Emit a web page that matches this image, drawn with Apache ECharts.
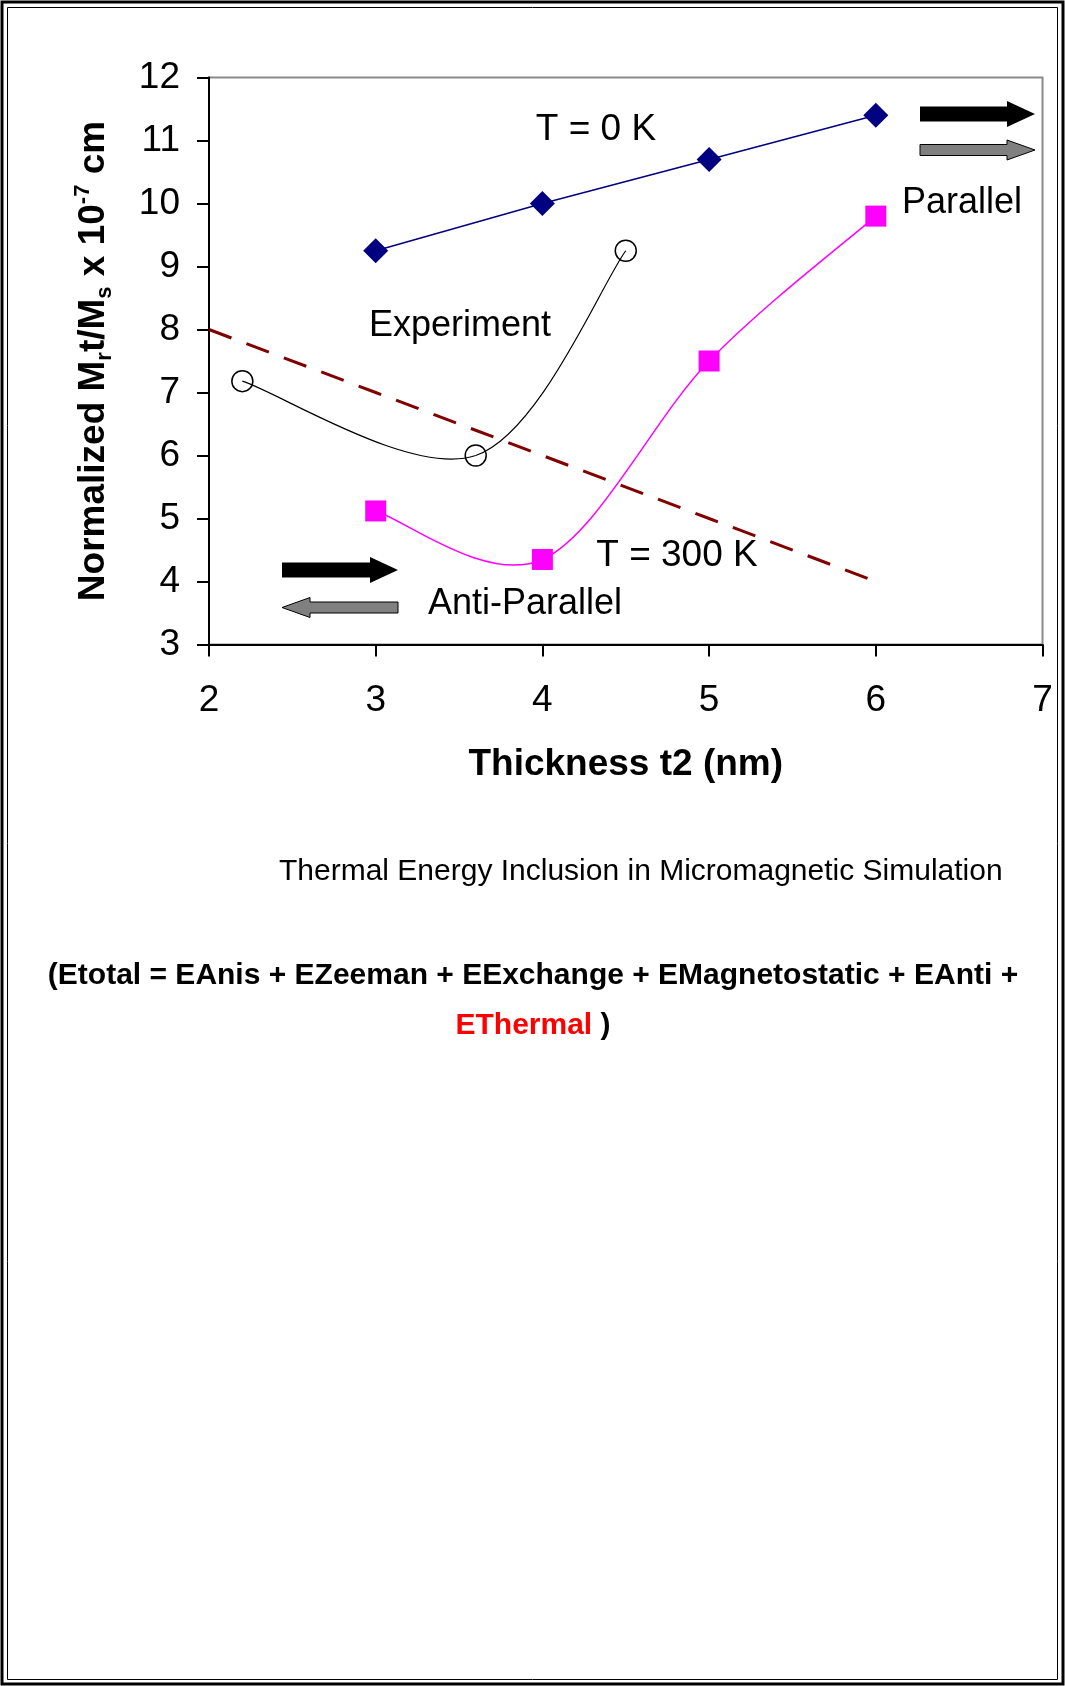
<!DOCTYPE html>
<html>
<head>
<meta charset="utf-8">
<script src="https://cdn.jsdelivr.net/npm/echarts@6/dist/echarts.min.js"></script>
<style>
  html, body { margin: 0; padding: 0; background: #fff; }
  #chart { width: 1065px; height: 1686px; }
</style>
</head>
<body>
<div id="chart"></div>
<script>
// Thickness t2 (nm) and normalized Mr·t/Ms (×10^-7 cm)
const zeroKX = [3, 4, 5, 6];
const zeroKY = [9.25, 10.0, 10.7, 11.4];

const roomKX = [3, 4, 5, 6];
const roomKY = [5.12, 4.35, 7.5, 9.8];

const experimentX = [2.2, 3.6, 4.5];
const experimentY = [7.18, 6.0, 9.25];

const trendX = [2, 3, 4, 5, 6];
const trendY = [8, 7, 6, 5, 4];

const xTicks = { min: 2, max: 7, step: 1 };
const yTicks = { min: 3, max: 12, step: 1 };

const FONT = '"Liberation Sans", Arial, Helvetica, sans-serif';

function pairs(xs, ys) { return xs.map((x, i) => [x, ys[i]]); }

// Spreadsheet-style smoothed segment: cubic Bezier between point i and i+1,
// control points taken from the neighbouring points in screen space.
function smoothSegment(pts, color, width) {
  return function (params, api) {
    const i = params.dataIndex;
    if (i >= pts.length - 1) return null;
    const p = pts.map(d => api.coord(d));
    const p0 = p[Math.max(i - 1, 0)], p1 = p[i], p2 = p[i + 1], p3 = p[Math.min(i + 2, p.length - 1)];
    const k = 1 / 6;
    return {
      type: 'bezierCurve',
      shape: {
        x1: p1[0], y1: p1[1], x2: p2[0], y2: p2[1],
        cpx1: p1[0] + (p2[0] - p0[0]) * k, cpy1: p1[1] + (p2[1] - p0[1]) * k,
        cpx2: p2[0] - (p3[0] - p1[0]) * k, cpy2: p2[1] - (p3[1] - p1[1]) * k
      },
      style: { stroke: color, lineWidth: width, fill: null }
    };
  };
}

// block arrow polygon: tail at x0, tip at x1, centred on y
function arrow(x0, x1, y, bodyH, headH, headL) {
  const dir = x1 > x0 ? 1 : -1;
  const hx = x1 - dir * headL;
  return [
    [x0, y - bodyH / 2], [hx, y - bodyH / 2], [hx, y - headH / 2], [x1, y],
    [hx, y + headH / 2], [hx, y + bodyH / 2], [x0, y + bodyH / 2]
  ];
}

const experimentPts = pairs(experimentX, experimentY);
const roomKPts = pairs(roomKX, roomKY);

const chart = echarts.init(document.getElementById('chart'), null, { renderer: 'canvas' });

const option = {
  backgroundColor: '#ffffff',
  animation: false,
  textStyle: { fontFamily: FONT },
  grid: {
    left: 209, top: 77.5, width: 833.5, height: 567,
    show: true, borderColor: '#8a8a8a', borderWidth: 2,
    backgroundColor: 'transparent',
    outerBoundsMode: 'none'
  },
  xAxis: {
    type: 'value', min: xTicks.min, max: xTicks.max, interval: xTicks.step,
    axisLine: { show: true, onZero: false, lineStyle: { color: '#000', width: 2 } },
    axisTick: { show: true, length: 12, lineStyle: { color: '#000', width: 2 } },
    axisLabel: { fontSize: 37, color: '#000', margin: 38, fontFamily: FONT },
    splitLine: { show: false },
    name: 'Thickness t2 (nm)',
    nameLocation: 'middle', nameGap: 102,
    nameTextStyle: { fontSize: 37, fontWeight: 'bold', color: '#000', fontFamily: FONT }
  },
  yAxis: {
    type: 'value', min: yTicks.min, max: yTicks.max, interval: yTicks.step,
    axisLine: { show: true, onZero: false, lineStyle: { color: '#000', width: 2 } },
    axisTick: { show: true, length: 12, lineStyle: { color: '#000', width: 2 } },
    axisLabel: { fontSize: 37, color: '#000', margin: 29, fontFamily: FONT },
    splitLine: { show: false },
    name: '{b|Normalized M}{sub|r}{b|t/M}{sub|s}{b| x 10}{sup|-7}{b| cm}',
    nameLocation: 'middle', nameGap: 93, nameRotate: 90,
    nameTextStyle: {
      color: '#000',
      rich: {
        b: { fontSize: 37, fontWeight: 'bold', lineHeight: 44, color: '#000', fontFamily: FONT },
        sub: { fontSize: 22, fontWeight: 'bold', lineHeight: 22, verticalAlign: 'bottom', color: '#000', fontFamily: FONT },
        sup: { fontSize: 22, fontWeight: 'bold', lineHeight: 22, verticalAlign: 'top', color: '#000', fontFamily: FONT }
      }
    }
  },
  series: [
    {
      name: 'T = 300 K trend',
      type: 'line',
      data: pairs(trendX, trendY),
      showSymbol: false, symbol: 'none',
      lineStyle: { color: '#800000', width: 3, type: [24, 16] },
      z: 2
    },
    {
      name: 'Experiment curve',
      type: 'custom',
      data: experimentPts,
      encode: { x: 0, y: 1 },
      renderItem: smoothSegment(experimentPts, '#000', 1.2),
      z: 3
    },
    {
      name: 'Experiment',
      type: 'scatter',
      data: experimentPts,
      symbol: 'circle', symbolSize: 21,
      itemStyle: { color: 'rgba(255,255,255,0)', borderColor: '#000', borderWidth: 1.5, opacity: 1 },
      z: 4
    },
    {
      name: 'T = 300 K curve',
      type: 'custom',
      data: roomKPts,
      encode: { x: 0, y: 1 },
      renderItem: smoothSegment(roomKPts, '#ff00ff', 1.5),
      z: 3
    },
    {
      name: 'T = 300 K',
      type: 'scatter',
      data: roomKPts,
      symbol: 'rect', symbolSize: 21,
      itemStyle: { color: '#ff00ff', opacity: 1 },
      z: 4
    },
    {
      name: 'T = 0 K',
      type: 'line',
      data: pairs(zeroKX, zeroKY),
      symbol: 'diamond', symbolSize: 25,
      itemStyle: { color: '#000080' },
      lineStyle: { color: '#000080', width: 1.6 },
      z: 5
    }
  ],
  graphic: {
    elements: [
      // page frame: thick outer rule, thin inner rule
      { type: 'rect', shape: { x: 2, y: 2, width: 1061, height: 1682 }, style: { fill: 'none', stroke: '#000', lineWidth: 3 }, silent: true },
      { type: 'rect', shape: { x: 7.5, y: 7.5, width: 1050, height: 1672 }, style: { fill: 'none', stroke: '#000', lineWidth: 1 }, silent: true },

      // plot annotations
      { type: 'text', x: 596, y: 129.5, style: { text: 'T = 0 K', fontSize: 37, fontFamily: FONT, fill: '#000', align: 'center', verticalAlign: 'middle' }, z: 10 },
      { type: 'text', x: 460, y: 326.5, style: { text: 'Experiment', fontSize: 36, fontFamily: FONT, fill: '#000', align: 'center', verticalAlign: 'middle' }, z: 10 },
      { type: 'text', x: 677, y: 555.5, style: { text: 'T = 300 K', fontSize: 37, fontFamily: FONT, fill: '#000', align: 'center', verticalAlign: 'middle' }, z: 10 },
      { type: 'text', x: 525, y: 604.5, style: { text: 'Anti-Parallel', fontSize: 36, fontFamily: FONT, fill: '#000', align: 'center', verticalAlign: 'middle' }, z: 10 },
      { type: 'text', x: 962, y: 203.5, style: { text: 'Parallel', fontSize: 36, fontFamily: FONT, fill: '#000', align: 'center', verticalAlign: 'middle' }, z: 10 },

      // magnetisation direction arrows
      { type: 'polygon', shape: { points: arrow(920, 1035, 114, 15, 26, 28) }, style: { fill: '#000' }, z: 10 },
      { type: 'polygon', shape: { points: arrow(920, 1035, 150, 11, 20, 28) }, style: { fill: '#808080', stroke: '#000', lineWidth: 1 }, z: 10 },
      { type: 'polygon', shape: { points: arrow(282, 398, 570, 15, 26, 28) }, style: { fill: '#000' }, z: 10 },
      { type: 'polygon', shape: { points: arrow(398, 282, 607.5, 11, 20, 28) }, style: { fill: '#808080', stroke: '#000', lineWidth: 1 }, z: 10 },

      // caption and energy expression
      { type: 'text', x: 279, y: 872, style: { text: 'Thermal Energy Inclusion in Micromagnetic Simulation', fontSize: 30, fontFamily: FONT, fill: '#000', align: 'left', verticalAlign: 'middle' } },
      { type: 'text', x: 533, y: 975.5, style: { text: '(Etotal = EAnis + EZeeman + EExchange + EMagnetostatic + EAnti +', fontSize: 30, fontWeight: 'bold', fontFamily: FONT, fill: '#000', align: 'center', verticalAlign: 'middle' } },
      { type: 'text', x: 533, y: 1026, style: {
          text: '{r|EThermal}{k| )}',
          align: 'center', verticalAlign: 'middle',
          rich: {
            r: { fontSize: 30, fontWeight: 'bold', fontFamily: FONT, fill: '#ff0000' },
            k: { fontSize: 30, fontWeight: 'bold', fontFamily: FONT, fill: '#000' }
          }
        } }
    ]
  }
};

chart.setOption(option);
</script>
</body>
</html>
